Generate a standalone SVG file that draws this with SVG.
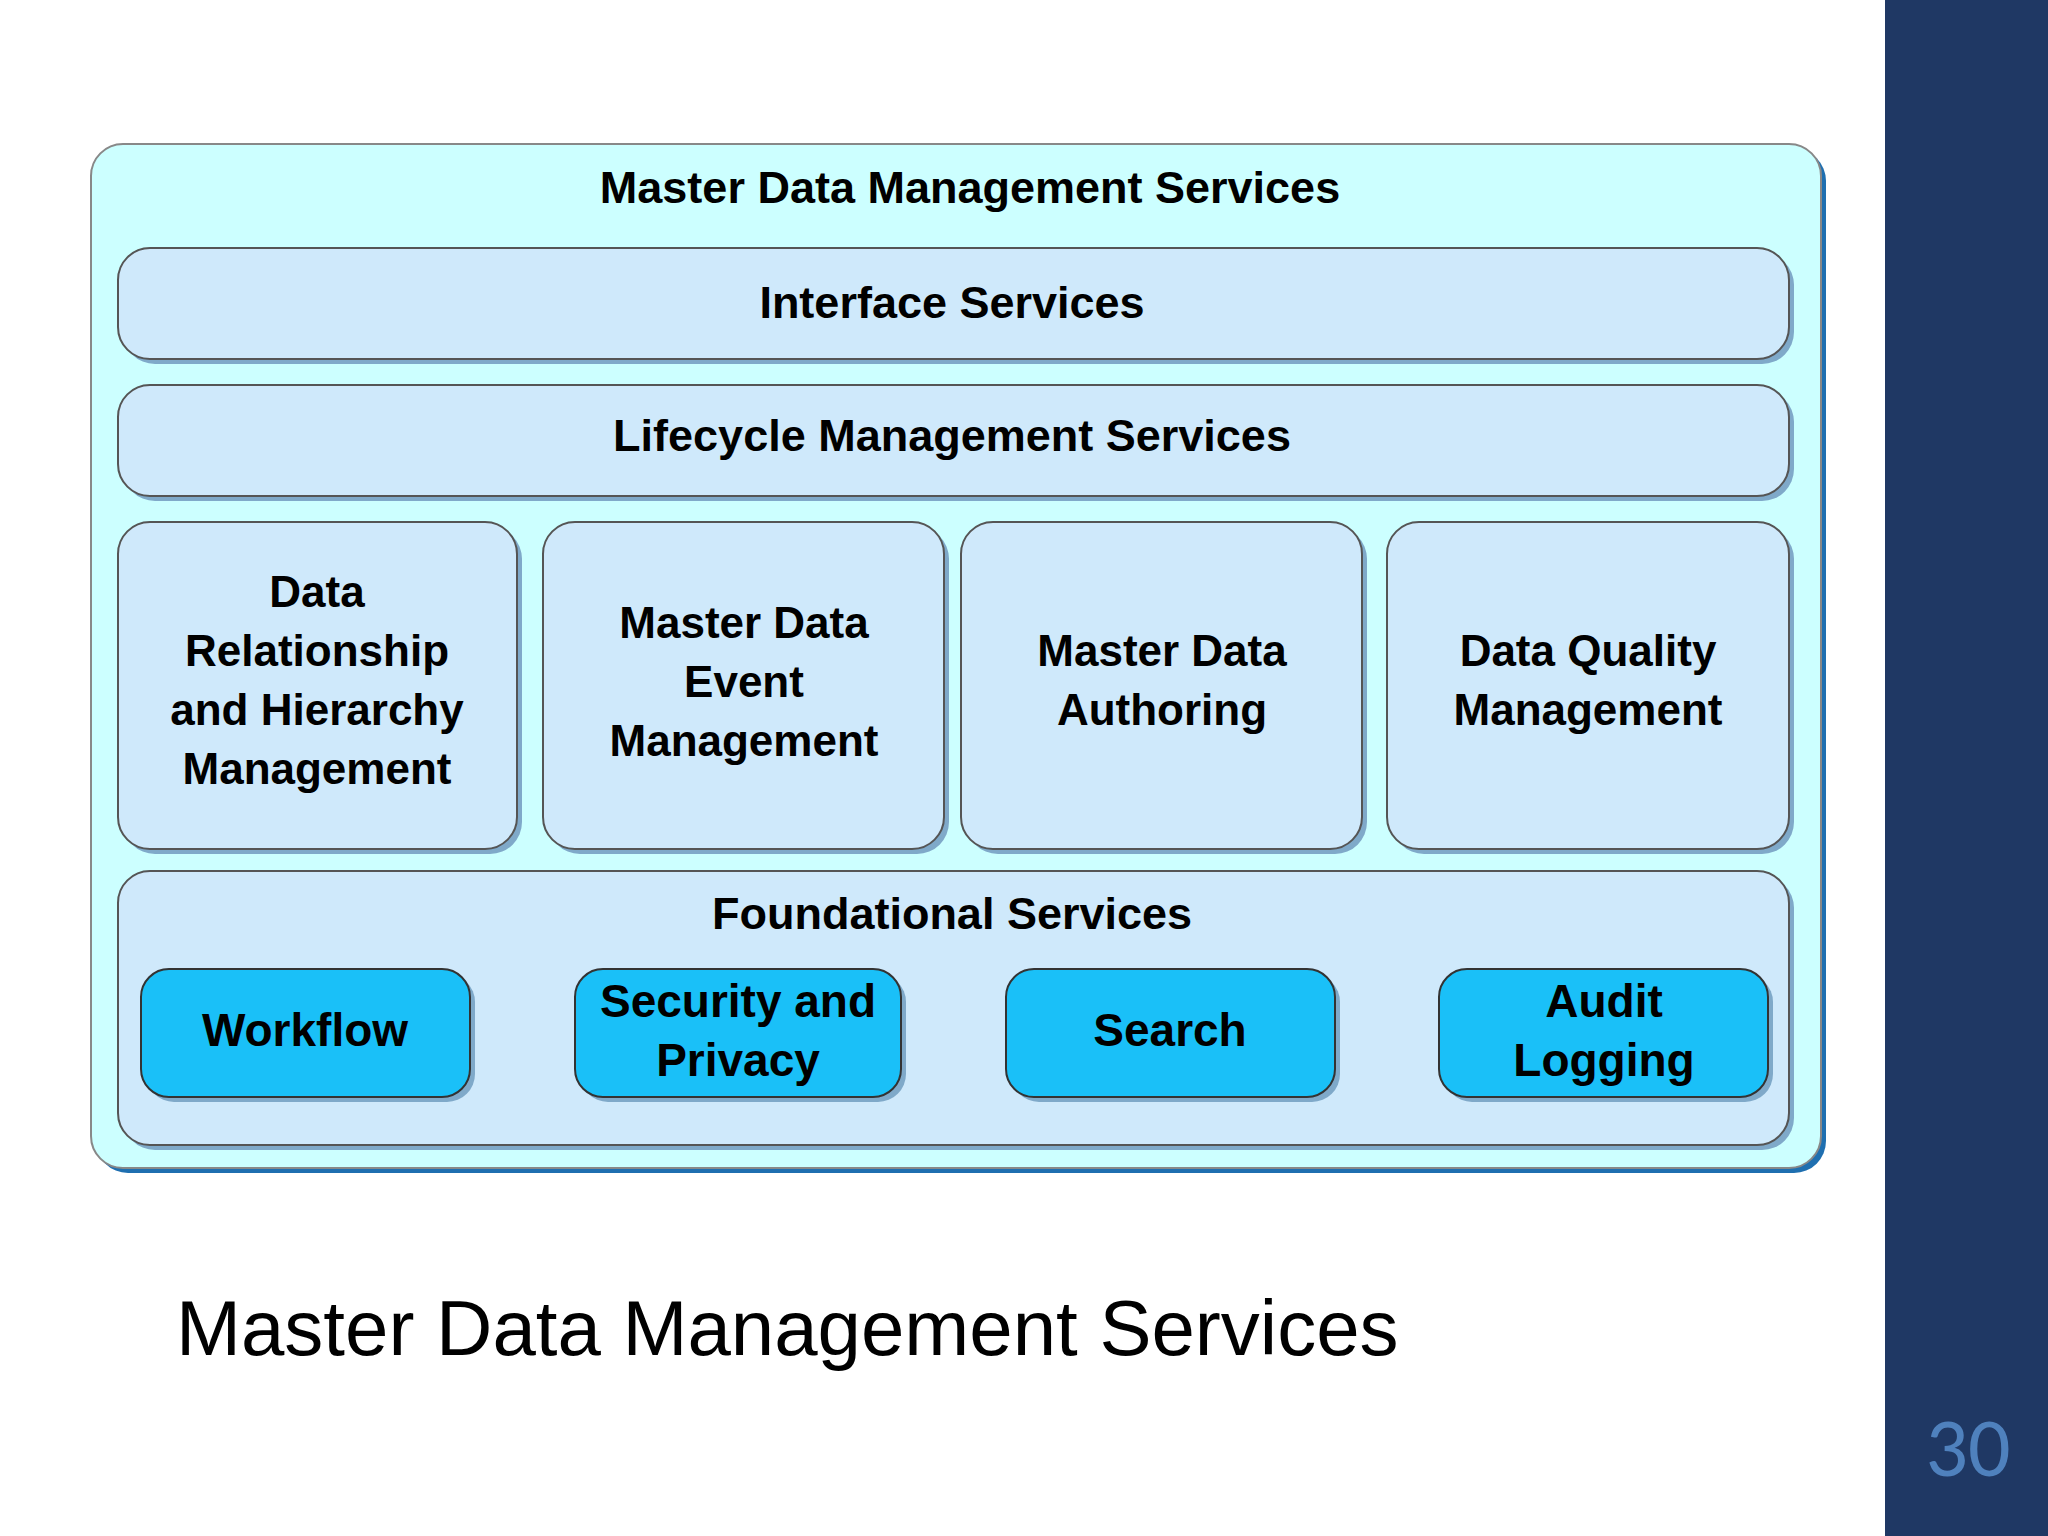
<svg xmlns="http://www.w3.org/2000/svg" width="2048" height="1536" viewBox="0 0 2048 1536">
<style>
.t{font-family:"Liberation Sans",Arial,sans-serif;font-weight:bold;fill:#000;text-anchor:middle}
.box{fill:#cfe9fb;stroke:#555;stroke-width:2}
.sh{fill:#7fa9c9}
.btn{fill:#1ac0f8;stroke:#333;stroke-width:2}
</style>
<rect width="2048" height="1536" fill="#fff"/>
<rect x="1885" y="0" width="163" height="1536" fill="#1f3864"/>
<text x="1968" y="1476" font-family="Calibri,Carlito,'Liberation Sans',sans-serif" font-size="84" fill="#4f81bd" text-anchor="middle">30</text>
<g id="outer">
<rect x="96" y="149" width="1730" height="1024" rx="32" fill="#1f6fb0"/>
<rect x="91" y="144" width="1730" height="1024" rx="32" fill="#ccffff" stroke="#888" stroke-width="2"/>
<text class="t" x="970" y="203" font-size="45">Master Data Management Services</text>
</g>
<g id="interface">
<rect class="sh" x="123" y="253" width="1671" height="111" rx="32"/>
<rect class="box" x="118" y="248" width="1671" height="111" rx="32"/>
<text class="t" x="952" y="318" font-size="45">Interface Services</text>
</g>
<g id="lifecycle">
<rect class="sh" x="123" y="390" width="1671" height="111" rx="32"/>
<rect class="box" x="118" y="385" width="1671" height="111" rx="32"/>
<text class="t" x="952" y="451" font-size="45">Lifecycle Management Services</text>
</g>
<g id="drhm">
<rect class="sh" x="123" y="527" width="399" height="327" rx="32"/>
<rect class="box" x="118" y="522" width="399" height="327" rx="32"/>
<text class="t" x="317" y="607" font-size="44">Data</text>
<text class="t" x="317" y="666" font-size="44">Relationship</text>
<text class="t" x="317" y="725" font-size="44">and Hierarchy</text>
<text class="t" x="317" y="784" font-size="44">Management</text>
</g>
<g id="mdem">
<rect class="sh" x="548" y="527" width="401" height="327" rx="32"/>
<rect class="box" x="543" y="522" width="401" height="327" rx="32"/>
<text class="t" x="744" y="638" font-size="44">Master Data</text>
<text class="t" x="744" y="697" font-size="44">Event</text>
<text class="t" x="744" y="756" font-size="44">Management</text>
</g>
<g id="mda">
<rect class="sh" x="966" y="527" width="401" height="327" rx="32"/>
<rect class="box" x="961" y="522" width="401" height="327" rx="32"/>
<text class="t" x="1162" y="666" font-size="44">Master Data</text>
<text class="t" x="1162" y="725" font-size="44">Authoring</text>
</g>
<g id="dqm">
<rect class="sh" x="1392" y="527" width="402" height="327" rx="32"/>
<rect class="box" x="1387" y="522" width="402" height="327" rx="32"/>
<text class="t" x="1588" y="666" font-size="44">Data Quality</text>
<text class="t" x="1588" y="725" font-size="44">Management</text>
</g>
<g id="foundational">
<rect class="sh" x="123" y="876" width="1671" height="274" rx="32"/>
<rect class="box" x="118" y="871" width="1671" height="274" rx="32"/>
<text class="t" x="952" y="929" font-size="45">Foundational Services</text>
</g>
<g id="workflow">
<rect class="sh" x="146" y="974" width="329" height="128" rx="28"/>
<rect class="btn" x="141" y="969" width="329" height="128" rx="28"/>
<text class="t" x="305" y="1046" font-size="46">Workflow</text>
</g>
<g id="security">
<rect class="sh" x="580" y="974" width="326" height="128" rx="28"/>
<rect class="btn" x="575" y="969" width="326" height="128" rx="28"/>
<text class="t" x="738" y="1017" font-size="46">Security and</text>
<text class="t" x="738" y="1076" font-size="46">Privacy</text>
</g>
<g id="search">
<rect class="sh" x="1011" y="974" width="329" height="128" rx="28"/>
<rect class="btn" x="1006" y="969" width="329" height="128" rx="28"/>
<text class="t" x="1170" y="1046" font-size="46">Search</text>
</g>
<g id="audit">
<rect class="sh" x="1444" y="974" width="329" height="128" rx="28"/>
<rect class="btn" x="1439" y="969" width="329" height="128" rx="28"/>
<text class="t" x="1604" y="1017" font-size="46">Audit</text>
<text class="t" x="1604" y="1076" font-size="46">Logging</text>
</g>
<g id="connectors"></g>
<text x="176" y="1355" font-family="'Liberation Sans',Arial,sans-serif" font-size="78" fill="#000">Master Data Management Services</text>
</svg>
